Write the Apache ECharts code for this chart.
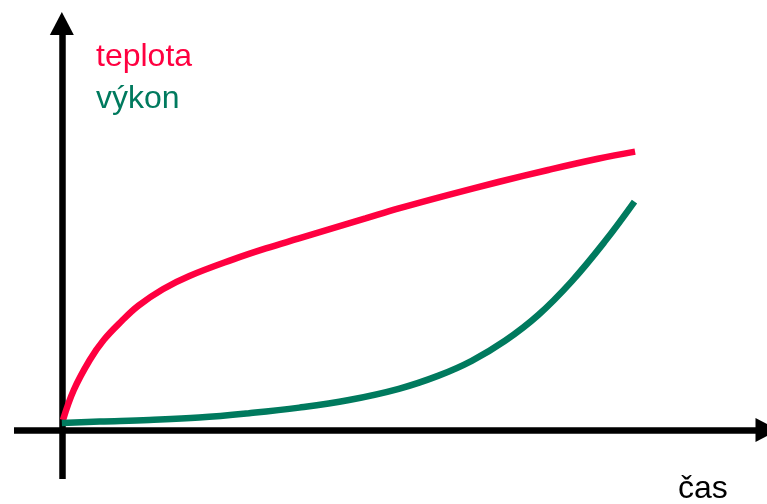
<!DOCTYPE html>
<html>
<head>
<meta charset="utf-8">
<script src="https://cdn.jsdelivr.net/npm/echarts@6/dist/echarts.min.js"></script>
<style>
html,body{margin:0;padding:0;background:#fff;}
#main{width:767px;height:504px;}
</style>
</head>
<body>
<div id="main"></div>
<script>
var seriesNames = ['teplota', 'výkon'];
var axisTitle = 'čas';
var teplotaX = [0.2, 2.09, 4.88, 7.32, 10.5, 13.4, 17.65, 22.3, 29.84, 35.66, 41.46, 47.26, 53.08, 58.89, 67.6, 76.3, 85.0, 93.7, 100.2];
var teplotaY = [2.5, 10, 17.5, 22.5, 27.3, 31.1, 35.2, 38.5, 42.6, 45.4, 47.9, 50.4, 52.9, 55.4, 58.8, 62, 65.0, 67.8, 69.6];
var vykonX = [0, 6.6, 15.3, 24, 32.75, 41.5, 50.2, 58.9, 65.85, 71.65, 77.47, 83.28, 89.08, 94.9, 100.1];
var vykonY = [1.75, 2.1, 2.5, 3.1, 4.2, 5.6, 7.5, 10.3, 13.6, 17.3, 22.3, 28.75, 37.1, 47.1, 57.1];

var RED = '#FF0040';
var GREEN = '#007A5E';

function pairs(xs, ys) { return xs.map(function (x, i) { return [x, ys[i]]; }); }

var chart = echarts.init(document.getElementById('main'));
var axisCommon = {
  type: 'value',
  axisLabel: { show: false },
  axisTick: { show: false },
  splitLine: { show: false },
  axisLine: {
    show: true,
    onZero: true,
    symbol: ['none', 'triangle'],
    symbolSize: [24, 23],
    lineStyle: { color: '#000', width: 6.5, cap: 'butt' }
  }
};
chart.setOption({
  animation: false,
  backgroundColor: '#fff',
  grid: { left: 14, top: 23.5, width: 755.5, height: 455.5, containLabel: false },
  xAxis: Object.assign({}, axisCommon, { min: -8.362, max: 123.26 }),
  yAxis: Object.assign({}, axisCommon, { min: -12.25, max: 101.625 }),
  series: [
    {
      name: seriesNames[0], type: 'line', smooth: 0.4, showSymbol: false, clip: false,
      data: pairs(teplotaX, teplotaY),
      lineStyle: { color: RED, width: 6.5, cap: 'butt' }, z: 3
    },
    {
      name: seriesNames[1], type: 'line', smooth: 0.4, showSymbol: false, clip: false,
      data: pairs(vykonX, vykonY),
      lineStyle: { color: GREEN, width: 6.5, cap: 'butt' }, z: 3
    }
  ],
  graphic: [
    { type: 'text', left: 96, top: 41, style: { text: seriesNames[0], fill: RED, font: '32px "Liberation Sans", Arial, sans-serif' } },
    { type: 'text', left: 96, top: 83, style: { text: seriesNames[1], fill: GREEN, font: '32px "Liberation Sans", Arial, sans-serif' } },
    { type: 'text', left: 678, top: 473, style: { text: axisTitle, fill: '#000', font: '32px "Liberation Sans", Arial, sans-serif' } }
  ]
});
</script>
</body>
</html>
